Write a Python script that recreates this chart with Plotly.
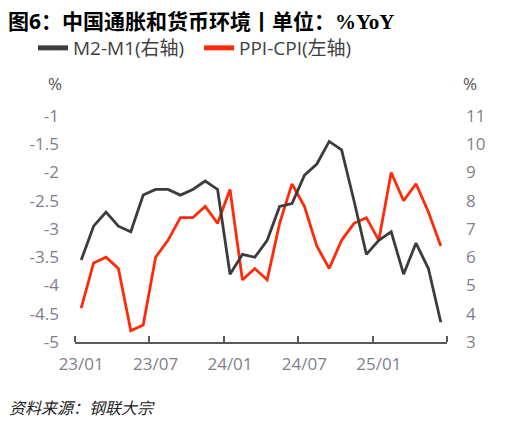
import plotly.graph_objects as go

# Monthly data, 23/01 - 25/06
months = ["23/01", "23/02", "23/03", "23/04", "23/05", "23/06", "23/07", "23/08", "23/09", "23/10",
          "23/11", "23/12", "24/01", "24/02", "24/03", "24/04", "24/05", "24/06", "24/07", "24/08",
          "24/09", "24/10", "24/11", "24/12", "25/01", "25/02", "25/03", "25/04", "25/05", "25/06"]

m2_m1 = [5.9, 7.1, 7.6, 7.1, 6.9, 8.2, 8.4, 8.4, 8.2, 8.4, 8.7, 8.4, 5.4, 6.1, 6.0,
         6.6, 7.8, 7.9, 8.9, 9.3, 10.1, 9.8, 8.0, 6.1, 6.6, 6.9, 5.4, 6.5, 5.6, 3.7]

ppi_cpi = [-4.4, -3.6, -3.5, -3.7, -4.8, -4.7, -3.5, -3.2, -2.8, -2.8, -2.6, -2.9, -2.3, -3.9, -3.7,
           -3.9, -2.9, -2.2, -2.6, -3.3, -3.7, -3.2, -2.9, -2.8, -3.2, -2.0, -2.5, -2.2, -2.7, -3.3]

tick_labels = ["23/01", "23/07", "24/01", "24/07", "25/01"]
left_ticks = [-1, -1.5, -2, -2.5, -3, -3.5, -4, -4.5, -5]
left_tick_text = ["-1", "-1.5", "-2", "-2.5", "-3", "-3.5", "-4", "-4.5", "-5"]

x = list(range(len(months)))
tickvals = [months.index(t) for t in tick_labels]
boundaries = [v - 0.5 for v in tickvals] + [len(months) - 0.5]

FONT = "Open Sans, Noto Sans CJK SC, sans-serif"
TICK_COLOR = "#7f7f8c"
BLACK = "#3c3c3c"
RED = "#ff2a0a"

# page body has an 8px margin, so the figure is drawn 8px smaller and shifted
OFF = 8
W, H = 519 - OFF, 426 - OFF
PL, PR, PT, PB = 75, 446.7, 116, 341.7  # plot area in window pixels


def cx(px):
    return (px - OFF) / W


def cy(py):
    return 1 - (py - OFF) / H


def paper_x(px):
    return (px - PL) / (PR - PL)


def paper_y(py):
    return (PB - py) / (PB - PT)


fig = go.Figure()
fig.add_trace(go.Scatter(x=x, y=m2_m1, mode="lines", yaxis="y2", showlegend=False,
                         line=dict(color=BLACK, width=2.8)))
fig.add_trace(go.Scatter(x=x, y=ppi_cpi, mode="lines", yaxis="y", showlegend=False,
                         line=dict(color=RED, width=2.8)))
# legend entries with thicker samples
fig.add_trace(go.Scatter(x=[None], y=[None], name="M2-M1(右轴)", mode="lines",
                         line=dict(color=BLACK, width=5)))
fig.add_trace(go.Scatter(x=[None], y=[None], name="PPI-CPI(左轴)", mode="lines",
                         line=dict(color=RED, width=5)))

fig.update_layout(
    width=W, height=H,
    margin=dict(l=PL - OFF, r=W - (PR - OFF), t=PT - OFF, b=H - (PB - OFF), autoexpand=False),
    paper_bgcolor="white", plot_bgcolor="white",
    font=dict(family=FONT, size=16, color=TICK_COLOR),
    showlegend=True,
    legend=dict(
        orientation="h", xref="container", yref="container",
        x=cx(33), xanchor="left", y=cy(48), yanchor="middle",
        font=dict(size=19, color="#404040"),
        bgcolor="rgba(0,0,0,0)",
        itemwidth=30, entrywidth=121, entrywidthmode="pixels",
    ),
    xaxis=dict(
        range=[-0.5, len(months) - 0.5],
        tickmode="array", tickvals=tickvals, ticktext=tick_labels,
        ticks="", showgrid=False, zeroline=False,
        showline=True, linecolor="#5a5a5a", linewidth=1.5,
        tickfont=dict(size=17, color=TICK_COLOR),
        ticklabelstandoff=6,
        minor=dict(tickmode="array", tickvals=boundaries, ticks="inside",
                   ticklen=6, tickwidth=1.5, tickcolor="#5a5a5a", showgrid=False),
    ),
    yaxis=dict(
        range=[-5, -1], tickmode="array", tickvals=left_ticks, ticktext=left_tick_text,
        showgrid=False, zeroline=False, showline=False, ticks="",
        tickfont=dict(size=17, color=TICK_COLOR),
        ticklabelstandoff=15,
    ),
    yaxis2=dict(
        range=[3, 11], dtick=1, tick0=3,
        overlaying="y", side="right",
        showgrid=False, zeroline=False, showline=False, ticks="",
        tickfont=dict(size=17, color=TICK_COLOR),
        ticklabelstandoff=18,
    ),
)

fig.add_annotation(
    text="<b>图6：中国通胀和货币环境丨单位：<span style='font-family:Liberation Serif'>%YoY</span></b>",
    xref="paper", yref="paper", x=paper_x(6), y=paper_y(21.5),
    xanchor="left", yanchor="middle", showarrow=False,
    font=dict(size=21, color="black", family=FONT))
fig.add_annotation(text="%", xref="paper", yref="paper", x=paper_x(55), y=paper_y(84),
                   xanchor="center", yanchor="middle", showarrow=False,
                   font=dict(size=17, color="#555555"))
fig.add_annotation(text="%", xref="paper", yref="paper", x=paper_x(470), y=paper_y(84),
                   xanchor="center", yanchor="middle", showarrow=False,
                   font=dict(size=17, color="#555555"))
fig.add_annotation(text="<i>资料来源：钢联大宗</i>", xref="paper", yref="paper",
                   x=paper_x(7), y=paper_y(408), xanchor="left", yanchor="middle",
                   showarrow=False, font=dict(size=16, color="#222222", family=FONT))

fig.write_html("out.html")
